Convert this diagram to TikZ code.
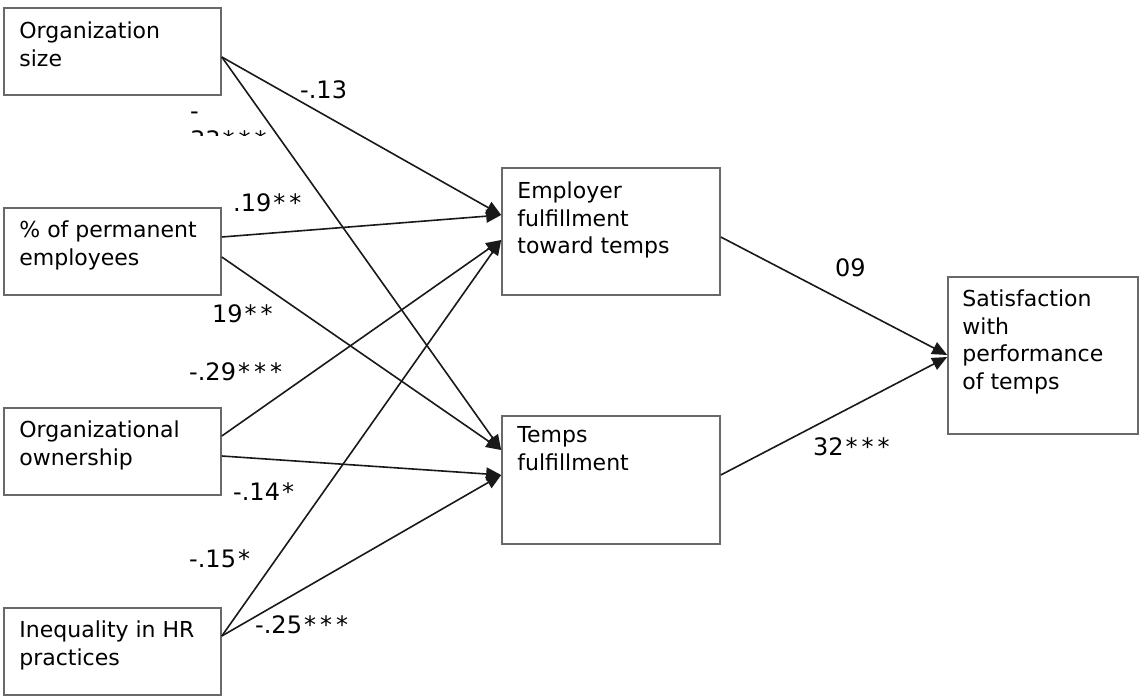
\documentclass[tikz,border=0pt]{standalone}
\usepackage{fontspec}
\setmainfont{DejaVu Sans}
\usetikzlibrary{arrows.meta}
\definecolor{boxgray}{RGB}{105,105,105}
\definecolor{linegray}{RGB}{25,25,25}
\newcommand\sstar{\kern2pt*\kern2pt}
\begin{document}
\begin{tikzpicture}[x=1pt,y=-1pt,
  box/.style={draw=boxgray,line width=1.6pt,minimum width=217pt,minimum height=87pt,inner sep=0pt},
  txt/.style={anchor=north west,inner sep=0pt,align=left,font=\fontsize{22}{27.5}\selectfont,text=black},
  lab/.style={anchor=base west,inner sep=0pt,font=\fontsize{24}{29}\selectfont,text=black},
  con/.style={line width=1.6pt,draw=linegray,-{Triangle[length=15pt,width=13pt]}},
]
\useasboundingbox (0,0) rectangle (1140,698);

% boxes
\node[box] (os) at (112.5,51.5) {};
\node[box] (pe) at (112.5,251.5) {};
\node[box] (oo) at (112.5,451.5) {};
\node[box] (ih) at (112.5,651.5) {};
\node[box,minimum width=218pt,minimum height=127pt] (emp) at (611,231.5) {};
\node[box,minimum width=218pt,minimum height=128pt] (tf) at (611,480) {};
\node[box,minimum width=190pt,minimum height=157pt] (sat) at (1043,355.5) {};

% box texts
\node[txt] (tos) at ([xshift=16pt,yshift=-14.5pt]os.north west) {Organization\\size};
\node[txt] (tpe) at ([xshift=16pt,yshift=-13.5pt]pe.north west) {\% of permanent\\employees};
\node[txt] (too) at ([xshift=16pt,yshift=-13.5pt]oo.north west) {Organizational\\ownership};
\node[txt] (tih) at ([xshift=16pt,yshift=-13.5pt]ih.north west) {Inequality in HR\\practices};
\node[txt] (temp) at ([xshift=16pt,yshift=-14.5pt]emp.north west) {Employer\\fulfillment\\toward temps};
\node[txt] (ttf) at ([xshift=16pt,yshift=-11.5pt]tf.north west) {Temps\\fulfillment};
\node[txt] (tsat) at ([xshift=15pt,yshift=-13.5pt]sat.north west) {Satisfaction\\with\\performance\\of temps};

% connectors
\draw[con] ([yshift=-5.5pt]os.east) -- ([yshift=16.5pt]emp.west);
\draw[con] ([yshift=-5.5pt]os.east) -- ([yshift=30pt]tf.west);
\draw[con] ([yshift=14.5pt]pe.east) -- ([yshift=16.5pt]emp.west);
\draw[con] ([yshift=-5.5pt]pe.east) -- ([yshift=30pt]tf.west);
\draw[con] ([yshift=15.5pt]oo.east) -- ([yshift=-8.5pt]emp.west);
\draw[con] ([yshift=-4.5pt]oo.east) -- ([yshift=5pt]tf.west);
\draw[con] ([yshift=15.5pt]ih.east) -- ([yshift=-8.5pt]emp.west);
\draw[con] ([yshift=15.5pt]ih.east) -- ([yshift=5pt]tf.west);
\draw[con] ([yshift=-5.5pt]emp.east) -- ([yshift=0.5pt]sat.west);
\draw[con] ([yshift=5pt]tf.east) -- ([yshift=-1.5pt]sat.west);

% coefficient labels
\node[lab] (l13) at (300,99) {-.13};
\node[lab] (lm) at (190,119.5) {-};
\begin{scope}
  \clip (180,100) rectangle (290,136);
  \node[lab] (l33) at (190,149) {33\sstar\sstar\sstar};
\end{scope}
\node[lab] (l19a) at (233,211) {.19\sstar\sstar};
\node[lab] (l19b) at (212,322) {19\sstar\sstar};
\node[lab] (l29) at (189,380) {-.29\sstar\sstar\sstar};
\node[lab] (l14) at (233,500) {-.14\sstar};
\node[lab] (l15) at (189,567) {-.15\sstar};
\node[lab] (l25) at (255,633) {-.25\sstar\sstar\sstar};
\node[lab] (l09) at (835,276) {09};
\node[lab] (l32) at (813,455) {32\sstar\sstar\sstar};
\end{tikzpicture}
\end{document}
